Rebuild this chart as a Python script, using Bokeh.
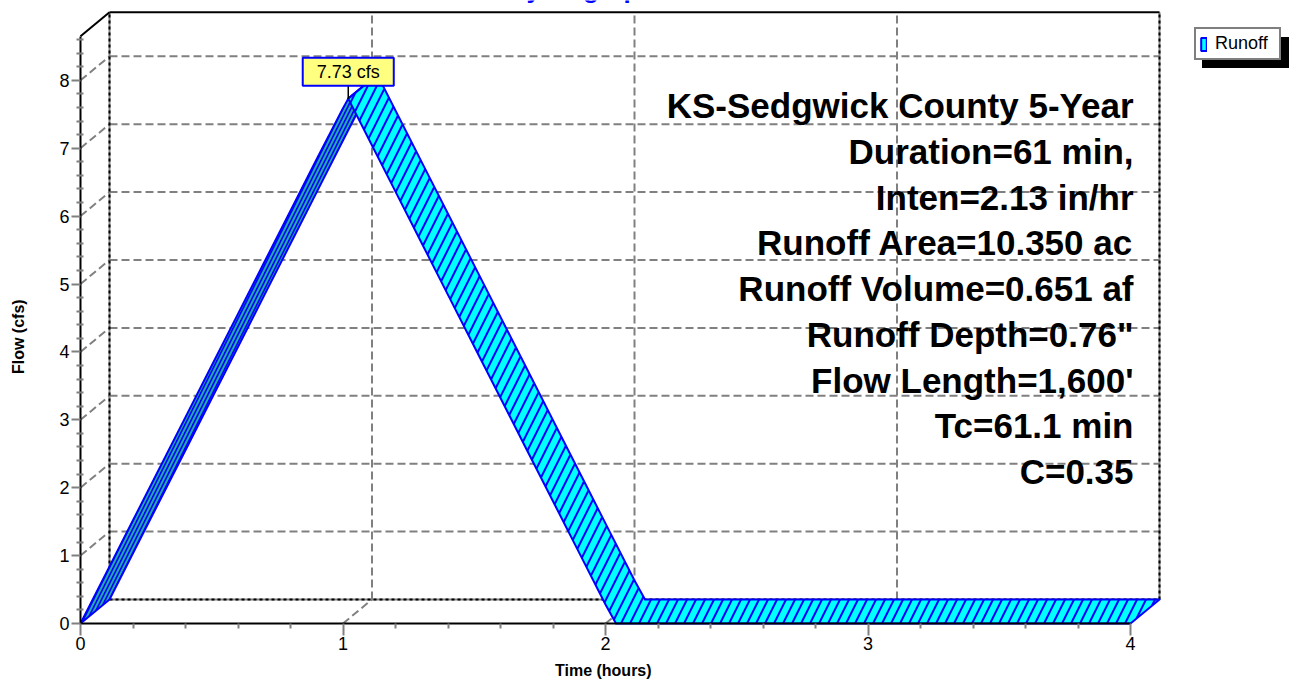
from bokeh.plotting import figure
from bokeh.models import Range1d, FixedTicker, Label, Legend, LegendItem
from bokeh.embed import file_html
from bokeh.resources import INLINE
from bokeh.core.properties import value

# ---------------- data ----------------
time_hr = [0.00, 0.10, 0.20, 0.30, 0.40, 0.50, 0.60, 0.70, 0.80, 0.90, 1.00, 1.02,
           1.10, 1.20, 1.30, 1.40, 1.50, 1.60, 1.70, 1.80, 1.90, 2.00, 2.04,
           2.50, 3.00, 3.50, 4.00]
flow_cfs = [0.00, 0.76, 1.52, 2.28, 3.04, 3.80, 4.56, 5.32, 6.08, 6.84, 7.59, 7.73,
            7.12, 6.36, 5.60, 4.84, 4.08, 3.32, 2.56, 1.80, 1.04, 0.28, 0.00,
            0.00, 0.00, 0.00, 0.00]
x_ticks = [0, 1, 2, 3, 4]
y_ticks = [0, 1, 2, 3, 4, 5, 6, 7, 8]
info_lines = ["KS-Sedgwick County 5-Year", "Duration=61 min,", "Inten=2.13 in/hr",
              "Runoff Area=10.350 ac", "Runoff Volume=0.651 af", 'Runoff Depth=0.76"',
              "Flow Length=1,600'", "Tc=61.1 min", "C=0.35"]
title_text = "Hydrograph"
series_name = "Runoff"
x_label = "Time  (hours)"
y_label = "Flow  (cfs)"
peak_unit = "cfs"

# ---------------- layout constants (pixels) ----------------
FONT_NAME = "Liberation Sans"
FONT = value(FONT_NAME)
X_MAX = 4.0
Y_TOP = 8.65
W, H = 1292, 681
X0_PX, Y0_PX = 80, 623          # where the front origin sits on the canvas
PX_X = 262.5                    # pixels per hour
PX_Y = 67.9                     # pixels per cfs
DX = 29 / PX_X                  # depth offset of the back plane (3D look)
DY = 24 / PX_Y

def dx(px):   # canvas x pixel -> data
    return (px - X0_PX) / PX_X

def dy(py):   # canvas y pixel -> data
    return (Y0_PX - py) / PX_Y

GRID = "#808080"
BLUE = "#0000FF"
CYAN = "#00FFFF"

p = figure(width=W, height=H, x_range=Range1d(dx(0), dx(W)), y_range=Range1d(dy(H), dy(0)),
           output_backend="svg", toolbar_location=None, title=None,
           min_border_left=0, min_border_right=0, min_border_top=0, min_border_bottom=0)
p.background_fill_color = "white"
p.border_fill_color = "white"
p.outline_line_color = None
p.xgrid.visible = False
p.ygrid.visible = False

# ---------------- axes (drawn at the front origin) ----------------
xminor = [i * 0.2 for i in range(0, 21) if i % 5 != 0]
yminor = [i * 0.2 for i in range(0, 44) if i % 5 != 0]
p.xaxis.ticker = FixedTicker(ticks=x_ticks, minor_ticks=xminor)
p.yaxis.ticker = FixedTicker(ticks=y_ticks, minor_ticks=yminor)
p.xaxis.bounds = (0, X_MAX)
p.yaxis.bounds = (0, Y_TOP)
p.xaxis.fixed_location = 0
p.yaxis.fixed_location = 0
for ax in (p.xaxis, p.yaxis):
    ax.axis_line_color = "black"
    ax.axis_line_width = 2
    ax.major_tick_line_color = GRID
    ax.major_tick_line_width = 2
    ax.minor_tick_line_color = GRID
    ax.minor_tick_line_width = 2
    ax.major_label_text_font = FONT_NAME
    ax.major_label_text_font_size = "18px"
    ax.major_label_text_color = "black"
    ax.major_tick_in = 0
p.xaxis.major_tick_out = 12
p.xaxis.minor_tick_out = 5
p.xaxis.minor_tick_in = 0
p.xaxis.major_label_standoff = 1
p.yaxis.major_tick_out = 9
p.yaxis.minor_tick_out = 4
p.yaxis.minor_tick_in = 3
p.yaxis.major_label_standoff = 2

# ---------------- title (cut off by the top edge, as in the reference) ----------------
p.text(x=[dx(581)], y=[dy(-12)], text=[title_text], text_align="center",
       text_baseline="alphabetic", text_font=FONT, text_font_style="bold",
       text_font_size="26px", text_color=BLUE)

# ---------------- back plane grid ----------------
hq = y_ticks[1:]
p.segment(x0=[DX] * len(hq), y0=[q + DY for q in hq],
          x1=[X_MAX + DX] * len(hq), y1=[q + DY for q in hq],
          line_color=GRID, line_width=2, line_dash="8 4")
vt = x_ticks[1:-1]
p.segment(x0=[t + DX for t in vt], y0=[DY] * len(vt),
          x1=[t + DX for t in vt], y1=[Y_TOP + DY] * len(vt),
          line_color=GRID, line_width=2, line_dash="8 4")
# diagonals from the front ticks to the back plane
p.segment(x0=[0] * len(hq), y0=hq, x1=[DX] * len(hq), y1=[q + DY for q in hq],
          line_color=GRID, line_width=2, line_dash="8 4")
p.segment(x0=vt, y0=[0] * len(vt), x1=[t + DX for t in vt], y1=[DY] * len(vt),
          line_color=GRID, line_width=2, line_dash="8 4")

# back frame edges (dotted black over grey)
bx0 = [DX, DX, X_MAX + DX]
by0 = [DY, DY, DY]
bx1 = [DX, X_MAX + DX, X_MAX + DX]
by1 = [Y_TOP + DY, DY, Y_TOP + DY]
p.segment(x0=bx0, y0=by0, x1=bx1, y1=by1, line_color=GRID, line_width=2)
p.segment(x0=bx0, y0=by0, x1=bx1, y1=by1, line_color="black", line_width=2, line_dash="3 3")
# top edges (solid)
p.segment(x0=[DX, 0], y0=[Y_TOP + DY, Y_TOP], x1=[X_MAX + DX, DX], y1=[Y_TOP + DY, Y_TOP + DY],
          line_color="black", line_width=2)

# ---------------- 3D hydrograph ribbon ----------------
ipk = max(range(len(flow_cfs)), key=lambda i: flow_cfs[i])
peak_t = time_hr[ipk]
peak_q = flow_cfs[ipk]

rt = time_hr[:ipk + 1]
rq = flow_cfs[:ipk + 1]
rise_x = rt + [t + DX for t in reversed(rt)]
rise_y = rq + [q + DY for q in reversed(rq)]

ft = time_hr[ipk:]
fq = flow_cfs[ipk:]
fall_x = ft + [t + DX for t in reversed(ft)]
fall_y = fq + [q + DY for q in reversed(fq)]

p.patch(rise_x, rise_y, fill_color=BLUE, line_color=BLUE, line_width=2,
        hatch_pattern="/", hatch_color="#22AAAA", hatch_weight=2, hatch_scale=8)
p.patch(fall_x, fall_y, fill_color=CYAN, line_color=BLUE, line_width=2, line_join="round",
        hatch_pattern="/", hatch_color=BLUE, hatch_weight=2, hatch_scale=18)

# peak callout
p.segment(x0=[peak_t], y0=[peak_q], x1=[peak_t], y1=[peak_q + 14 / PX_Y],
          line_color="black", line_width=1.5)
p.add_layout(Label(x=peak_t, y=peak_q, y_offset=13, text=f"{peak_q:.2f} {peak_unit}",
                   text_align="center", text_baseline="bottom",
                   text_font=FONT_NAME, text_font_size="18px", text_color="black",
                   background_fill_color="#FFFF80", border_line_color=BLUE,
                   border_line_width=2,
                   padding=dict(left=14, right=14, top=4, bottom=4)))

# ---------------- info text block ----------------
n = len(info_lines)
p.text(x=[dx(1133)] * n, y=[dy(105 + 45.75 * i) for i in range(n)], text=info_lines,
       text_align="right", text_baseline="alphabetic", text_font=FONT,
       text_font_style="bold", text_font_size="35px", text_color="black")

# ---------------- axis titles ----------------
p.text(x=[X_MAX / 2], y=[dy(670)], text=[x_label], text_align="center",
       text_baseline="middle", text_font=FONT, text_font_style="bold",
       text_font_size="16px", text_color="black")
p.text(x=[dx(18)], y=[dy(334)], text=[y_label], angle=1.5707963, text_align="center",
       text_baseline="middle", text_font=FONT, text_font_style="bold",
       text_font_size="16px", text_color="black")

# ---------------- legend with drop shadow ----------------
off = [dx(W) + 5]
proxy_shadow = p.quad(left=off, right=off, top=[0], bottom=[0],
                      fill_color="black", line_color="black")
proxy = p.quad(left=off, right=off, top=[0], bottom=[0],
               fill_color=CYAN, line_color=BLUE, line_width=2)

def make_legend(rend, label, loc, bg, txt):
    return Legend(items=[LegendItem(label=label, renderers=[rend])], location=loc,
                  background_fill_color=bg, background_fill_alpha=1.0,
                  border_line_color="black", border_line_width=2,
                  label_text_font=FONT_NAME, label_text_font_size="18px", label_text_color=txt,
                  glyph_width=7, glyph_height=16, label_standoff=8, label_width=60,
                  label_height=19, padding=4, spacing=0, margin=0)

# location = bottom-left corner of the legend box, measured from the frame's bottom-left
p.add_layout(make_legend(proxy_shadow, " ", (1194 + 8, H - 60 - 8), "black", "black"), "center")
p.add_layout(make_legend(proxy, series_name, (1194, H - 60), "white", "black"), "center")

open("out.html", "w").write(file_html(p, INLINE))
